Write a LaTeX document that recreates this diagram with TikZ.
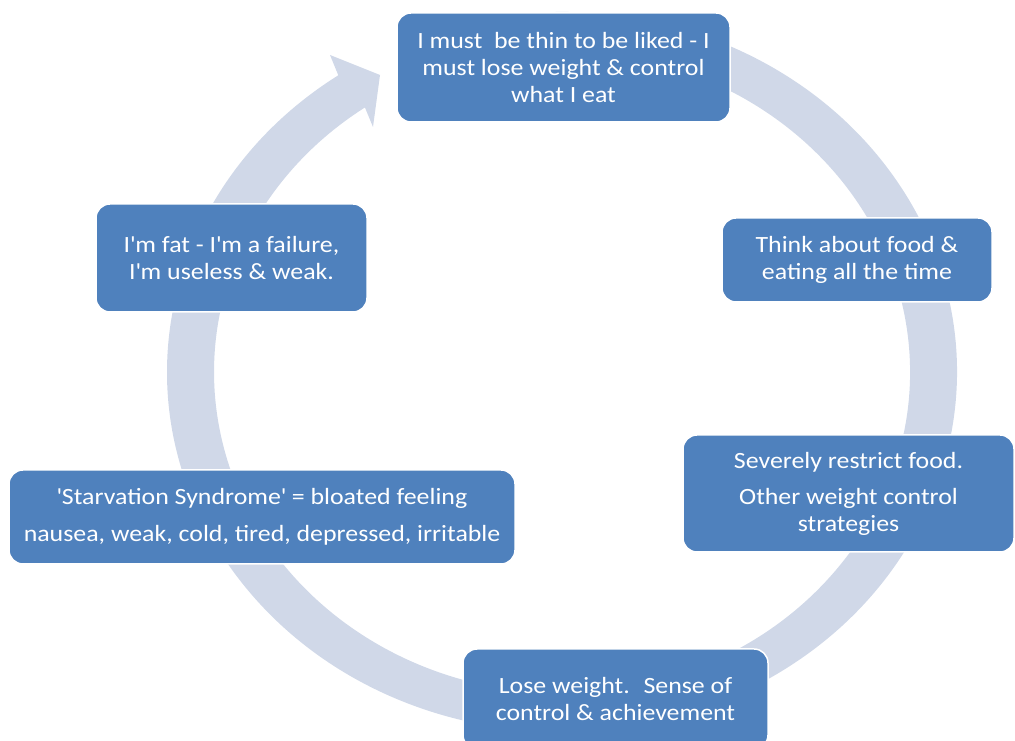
\documentclass[tikz,border=0pt]{standalone}
\usepackage{fontspec}
\setmainfont{Carlito}[FakeStretch=1.11]
\definecolor{boxblue}{RGB}{79,129,189}
\definecolor{ringblue}{RGB}{208,216,232}
\newcommand\sq{\textquotesingle}
\begin{document}
\begin{tikzpicture}[x=1pt,y=1pt,
  box/.style={rectangle, rounded corners=14pt, fill=boxblue, draw=white,
    line width=1.5pt, text=white, align=center, inner sep=0pt,
    font=\fontsize{23.3}{27}\selectfont}]
\useasboundingbox (0,0) rectangle (1015,741);
% ring with arrow head
\coordinate (c) at (562,369);
\coordinate (tip) at (380,666);
\coordinate (barbA) at (330,686);
\coordinate (barbB) at (373,614);
\coordinate (outerstart) at (338.3,665.7);
\coordinate (innerend) at (501.6,685.1);
\fill[ringblue] (outerstart)
  arc[start angle=124.5,end angle=460,x radius=395pt,y radius=360pt]
  -- (innerend)
  arc[start angle=460,end angle=124.5,x radius=348pt,y radius=321pt]
  -- (barbB) -- (tip) -- (barbA) -- cycle;
% boxes
\node[box, minimum width=333pt, minimum height=109pt] (top) at (563.5,673.5)
  {I must~ be thin to be liked - I\\must lose weight \& control\\what I eat};
\node[box, minimum width=270pt, minimum height=84pt] (think) at (857,481)
  {Think about food \&\\eating all the time};
\node[box, minimum width=331pt, minimum height=117pt] (severe) at (848.5,247.5)
  {Severely restrict food.\\[9pt]Other weight control\\strategies};
\node[box, minimum width=305pt, minimum height=100pt] (lose) at (615.5,42)
  {Lose weight.~ Sense of\\control \& achievement};
\node[box, minimum width=506pt, minimum height=94pt] (starv) at (262,224)
  {\sq Starvation Syndrome\sq{} = bloated feeling\\[10pt]nausea, weak, cold, tired, depressed, irritable};
\node[box, minimum width=271pt, minimum height=108pt] (fat) at (231.5,483)
  {I\sq m fat - I\sq m a failure,\\I\sq m useless \& weak.};
\end{tikzpicture}
\end{document}
